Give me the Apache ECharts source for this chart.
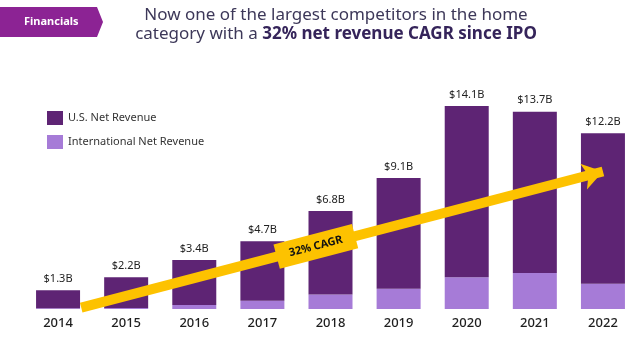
<!DOCTYPE html>
<html>
<head>
<meta charset="utf-8">
<script src="https://cdn.jsdelivr.net/npm/echarts@6/dist/echarts.min.js"></script>
<style>
html,body{margin:0;padding:0;background:#fff;}
#chart{width:640px;height:337px;}
</style>
</head>
<body>
<div id="chart"></div>
<script>
const years = ['2014','2015','2016','2017','2018','2019','2020','2021','2022'];
const totalRevenue = [1.3, 2.2, 3.4, 4.7, 6.8, 9.1, 14.1, 13.7, 12.2];
const usRevenue = [1.25, 2.13, 3.12, 4.13, 5.8, 7.7, 11.9, 11.2, 10.45];
const intlRevenue = [0.05, 0.07, 0.28, 0.57, 1.0, 1.4, 2.2, 2.5, 1.75];
const totalLabels = ['$1.3B','$2.2B','$3.4B','$4.7B','$6.8B','$9.1B','$14.1B','$13.7B','$12.2B'];
const cagrText = '32% CAGR';
const arrowStart = [0.34, 0.1];
const arrowEnd = [8.0, 9.55];
const labelEnd = [7.23, 8.6];

const FONT = 'Noto Sans';
const chart = echarts.init(document.getElementById('chart'));
chart.setOption({
  animation: false,
  textStyle: {fontFamily: FONT},
  title: {
    text: 'Now one of the largest competitors in the home\ncategory with a {b|32% net revenue CAGR since IPO}',
    left: 331, top: 1, textAlign: 'center',
    textStyle: {
      fontFamily: FONT, fontSize: 17, fontWeight: 'normal', color: '#3d3859', lineHeight: 19,
      rich: {b: {fontFamily: FONT, fontSize: 17, fontWeight: 'bold', color: '#35245a', lineHeight: 19}}
    }
  },
  graphic: [
    {type: 'polygon', shape: {points: [[0,7],[97,7],[103,22],[97,37],[0,37]]}, style: {fill: '#8c2394'}},
    {type: 'text', left: 24, top: 16, style: {text: 'Financials', fill: '#fff', font: 'bold 11px "Noto Sans"'}}
  ],
  legend: {
    orient: 'vertical', left: 42, top: 106, itemWidth: 16, itemHeight: 14, itemGap: 10,
    icon: 'rect',
    textStyle: {fontSize: 11, color: '#333', fontFamily: FONT},
    data: ['U.S. Net Revenue', 'International Net Revenue']
  },
  grid: {left: 24, right: 3, top: 93, bottom: 28},
  xAxis: [
    {
      type: 'category', data: years,
      axisLine: {show: false}, axisTick: {show: false},
      axisLabel: {fontSize: 13, color: '#1e1e1e', fontWeight: 500, margin: 8}
    },
    {type: 'value', min: -0.5, max: 8.5, show: false, splitLine: {show: false}}
  ],
  yAxis: {type: 'value', min: 0, max: 15, show: false, splitLine: {show: false}},
  series: [
    {
      name: 'International Net Revenue', type: 'bar', stack: 'rev', barWidth: 44,
      itemStyle: {color: '#a67bd7'}, data: intlRevenue
    },
    {
      name: 'U.S. Net Revenue', type: 'bar', stack: 'rev', barWidth: 44,
      itemStyle: {color: '#5e2474'}, data: usRevenue,
      label: {
        show: true, position: 'top', distance: 6, fontSize: 11, color: '#222',
        formatter: p => totalLabels[p.dataIndex]
      }
    },
    {
      name: 'cagr', type: 'line', xAxisIndex: 1, yAxisIndex: 0,
      data: [[0.34, 0]], showSymbol: false, symbol: 'none', lineStyle: {width: 0}, silent: true, z: 5,
      markLine: {
        silent: true, animation: false, symbolSize: 20,
        lineStyle: {type: 'solid'},
        data: [
          [
            {coord: arrowStart, symbol: 'none', lineStyle: {color: '#fdc200', width: 10, type: 'solid'}, label: {show: false}},
            {coord: arrowEnd, symbol: 'arrow', symbolSize: 20}
          ],
          [
            {coord: arrowStart, symbol: 'none', lineStyle: {color: 'rgba(0,0,0,0)', width: 1, type: 'solid'},
              label: {show: true, position: 'middle', verticalAlign: 'middle', formatter: cagrText, backgroundColor: '#fdc200',
                padding: [7, 13], color: '#111', fontWeight: 'bold', fontSize: 11, distance: 0}},
            {coord: labelEnd, symbol: 'none'}
          ]
        ]
      }
    }
  ]
});
</script>
</body>
</html>
